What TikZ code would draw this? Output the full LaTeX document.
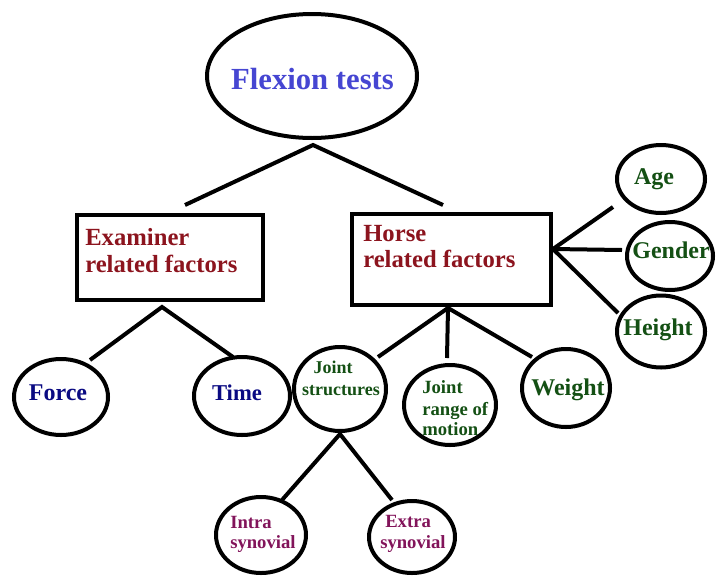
\documentclass[tikz,border=0pt]{standalone}
\usepackage{fontspec}
\setmainfont{Liberation Serif}
\usetikzlibrary{shapes.geometric}
\definecolor{ftblue}{RGB}{70,70,210}
\definecolor{exred}{RGB}{140,20,30}
\definecolor{navyc}{RGB}{10,10,130}
\definecolor{dgreen}{RGB}{20,80,20}
\definecolor{purp}{RGB}{130,20,90}
\begin{document}
\begin{tikzpicture}[x=0.75pt,y=-0.75pt,
  oval/.style={draw=black,line width=3pt,ellipse,inner sep=0pt},
  boxr/.style={draw=black,line width=3pt,rectangle,inner sep=0pt},
  conn/.style={black,line width=3pt},
  lbl/.style={inner sep=0pt,font=\bfseries}]
\useasboundingbox (0,0) rectangle (716,575);
% shapes
\node[oval,minimum width=157.5pt,minimum height=93pt] (flex) at (312,76) {};
\node[boxr,minimum width=139.5pt,minimum height=63.75pt] (exam) at (170,257.5) {};
\node[boxr,minimum width=149.25pt,minimum height=68.25pt] (horse) at (451.5,259.5) {};
\node[oval,minimum width=66pt,minimum height=51pt] (age) at (661,179) {};
\node[oval,minimum width=64.5pt,minimum height=51pt] (gender) at (670,256) {};
\node[oval,minimum width=66pt,minimum height=54pt] (height) at (661,331.5) {};
\node[oval,minimum width=70.5pt,minimum height=57pt] (force) at (61,397) {};
\node[oval,minimum width=72pt,minimum height=58.5pt] (time) at (242,396) {};
\node[oval,minimum width=69pt,minimum height=63pt] (jstruct) at (340,389) {};
\node[oval,minimum width=69pt,minimum height=60pt] (jrange) at (450,405) {};
\node[oval,minimum width=66pt,minimum height=58.5pt] (weight) at (566,388) {};
\node[oval,minimum width=67.5pt,minimum height=57pt] (intra) at (261,535) {};
\node[oval,minimum width=64.5pt,minimum height=54pt] (extra) at (412,537) {};
% connector end points
\coordinate (fv) at (313,145);
\coordinate (fl) at (185,205);
\coordinate (fr) at (443,205);
\coordinate (ev) at (162,307);
\coordinate (ef) at (90,360);
\coordinate (et) at (233,357);
\coordinate (hv) at (448,308);
\coordinate (hs) at (378,357);
\coordinate (hm) at (447,358);
\coordinate (hw) at (532,357);
\coordinate (hr) at (553,249);
\coordinate (ha) at (613,207);
\coordinate (hg) at (622,250);
\coordinate (hh) at (618,313);
\coordinate (jv) at (340,434);
\coordinate (ji) at (282,500);
\coordinate (je) at (392,500);
% connectors
\draw[conn] (fl) -- (fv) -- (fr);
\draw[conn] (ef) -- (ev) -- (et);
\draw[conn] (hs) -- (hv) -- (hw);
\draw[conn] (hv) -- (hm);
\draw[conn] (ha) -- (hr) -- (hh);
\draw[conn] (hr) -- (hg);
\draw[conn] (ji) -- (jv) -- (je);
% texts
\node[lbl,text=ftblue,font=\bfseries\fontsize{23}{27}\selectfont,anchor=base] (tflex) at (312.5,89) {Flexion tests};
\node[lbl,text=exred,font=\bfseries\fontsize{18.5}{22}\selectfont,anchor=base west] (tex1) at (85,245) {Examiner};
\node[lbl,text=exred,font=\bfseries\fontsize{18.5}{22}\selectfont,anchor=base west] (tex2) at (85,272) {related factors};
\node[lbl,text=exred,font=\bfseries\fontsize{18.5}{22}\selectfont,anchor=base west] (tho1) at (363,241) {Horse};
\node[lbl,text=exred,font=\bfseries\fontsize{18.5}{22}\selectfont,anchor=base west] (tho2) at (363,267) {related factors};
\node[lbl,text=dgreen,font=\bfseries\fontsize{18}{22}\selectfont,anchor=base] (tage) at (654,184) {Age};
\node[lbl,text=dgreen,font=\bfseries\fontsize{18}{22}\selectfont,anchor=base] (tgen) at (671,258) {Gender};
\node[lbl,text=dgreen,font=\bfseries\fontsize{18}{22}\selectfont,anchor=base] (thei) at (658,335) {Height};
\node[lbl,text=navyc,font=\bfseries\fontsize{18}{22}\selectfont,anchor=base] (tforce) at (58,400) {Force};
\node[lbl,text=navyc,font=\bfseries\fontsize{17}{21}\selectfont,anchor=base] (ttime) at (237,400) {Time};
\node[lbl,text=dgreen,font=\bfseries\fontsize{13.5}{16}\selectfont,anchor=base] (tjs1) at (333,373) {Joint};
\node[lbl,text=dgreen,font=\bfseries\fontsize{13.5}{16}\selectfont,anchor=base] (tjs2) at (341,395) {structures};
\node[lbl,text=dgreen,font=\bfseries\fontsize{14}{16}\selectfont,anchor=base west] (tjr1) at (422,393) {Joint};
\node[lbl,text=dgreen,font=\bfseries\fontsize{14}{16}\selectfont,anchor=base west] (tjr2) at (422,415) {range of};
\node[lbl,text=dgreen,font=\bfseries\fontsize{14}{16}\selectfont,anchor=base west] (tjr3) at (422,435) {motion};
\node[lbl,text=dgreen,font=\bfseries\fontsize{18}{22}\selectfont,anchor=base] (twei) at (568,395) {Weight};
\node[lbl,text=purp,font=\bfseries\fontsize{14}{16}\selectfont,anchor=base west] (tin1) at (230,528) {Intra};
\node[lbl,text=purp,font=\bfseries\fontsize{14}{16}\selectfont,anchor=base west] (tin2) at (230,548) {synovial};
\node[lbl,text=purp,font=\bfseries\fontsize{14}{16}\selectfont,anchor=base west] (tex1b) at (385,527) {Extra};
\node[lbl,text=purp,font=\bfseries\fontsize{14}{16}\selectfont,anchor=base west] (tex2b) at (380,548) {synovial};
\end{tikzpicture}
\end{document}
